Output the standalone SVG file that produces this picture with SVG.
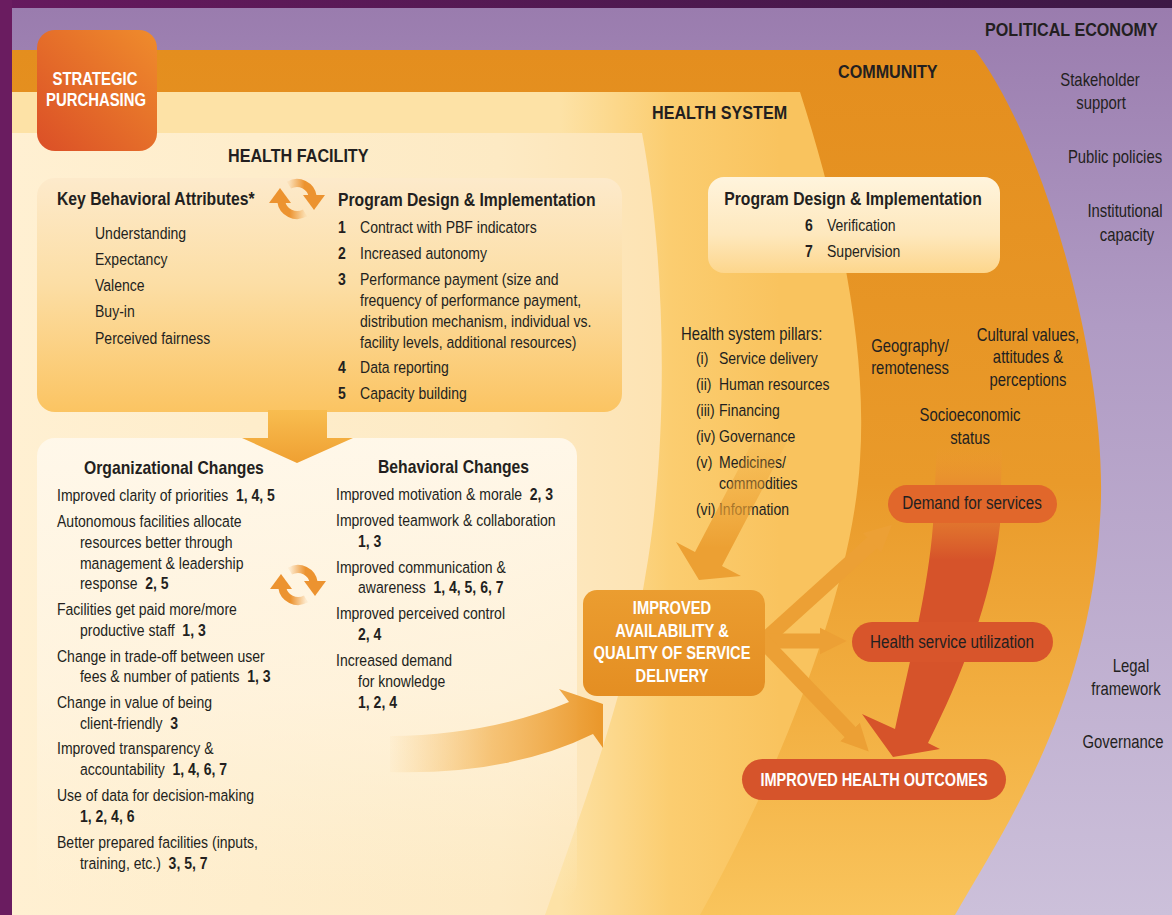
<svg xmlns="http://www.w3.org/2000/svg" width="1172" height="915" viewBox="0 0 1172 915">
<style>
.t{font-family:'Liberation Sans',Arial,sans-serif;font-size:16.5px;fill:#231f20}
.b{font-weight:bold}
.h{font-weight:bold;font-size:19px}
.s{font-weight:bold;font-size:18.5px}
.c{text-anchor:middle}
.w{fill:#ffffff}
.r{font-size:17.5px}
.oarrow{stroke:#eca035;stroke-width:15;fill:none;marker-end:url(#ah)}
</style>
<defs>
<linearGradient id="gPE" gradientUnits="userSpaceOnUse" x1="0" y1="8" x2="0" y2="915">
<stop offset="0" stop-color="#9a7cae"/><stop offset="0.35" stop-color="#b09bc4"/><stop offset="1" stop-color="#ccc0da"/>
</linearGradient>
<linearGradient id="gTop" x1="0" y1="0" x2="1" y2="0">
<stop offset="0" stop-color="#66195e"/><stop offset="1" stop-color="#3c1845"/>
</linearGradient>
<linearGradient id="gCom" gradientUnits="userSpaceOnUse" x1="0" y1="50" x2="0" y2="915">
<stop offset="0" stop-color="#e48e1e"/><stop offset="0.5" stop-color="#e99a2a"/><stop offset="0.75" stop-color="#f2ae40"/><stop offset="1" stop-color="#f9c45c"/>
</linearGradient>
<linearGradient id="gHS" gradientUnits="userSpaceOnUse" x1="560" y1="0" x2="780" y2="0">
<stop offset="0" stop-color="#fde2a6"/><stop offset="0.5" stop-color="#fbcd70"/><stop offset="1" stop-color="#f9c35e"/>
</linearGradient>
<linearGradient id="gHF" gradientUnits="userSpaceOnUse" x1="12" y1="0" x2="660" y2="0">
<stop offset="0" stop-color="#fff0d2"/><stop offset="0.75" stop-color="#fdeac4"/><stop offset="1" stop-color="#fde3b3"/>
</linearGradient>
<linearGradient id="gSP" x1="1" y1="0" x2="0" y2="1">
<stop offset="0" stop-color="#ef8c2c"/><stop offset="1" stop-color="#db4f27"/>
</linearGradient>
<linearGradient id="gKBA" x1="0" y1="0" x2="0" y2="1">
<stop offset="0" stop-color="#fdeacb"/><stop offset="0.45" stop-color="#fcdea5"/><stop offset="1" stop-color="#fbc462"/>
</linearGradient>
<linearGradient id="gCH" x1="0" y1="0" x2="0" y2="1">
<stop offset="0" stop-color="#fff8eb" stop-opacity="0.95"/><stop offset="0.55" stop-color="#fff5e3" stop-opacity="0.7"/><stop offset="1" stop-color="#fff3dc" stop-opacity="0"/>
</linearGradient>
<linearGradient id="gPD" x1="0" y1="0" x2="0" y2="1">
<stop offset="0" stop-color="#fff4dd"/><stop offset="0.6" stop-color="#fee8bd"/><stop offset="1" stop-color="#fdd68c"/>
</linearGradient>
<linearGradient id="gSD" x1="0" y1="0" x2="0" y2="1">
<stop offset="0" stop-color="#eb9d30"/><stop offset="1" stop-color="#e48e22"/>
</linearGradient>
<linearGradient id="gDown" x1="0" y1="0" x2="0" y2="1">
<stop offset="0" stop-color="#f8bd50"/><stop offset="1" stop-color="#efa032"/>
</linearGradient>
<linearGradient id="gCurve" gradientUnits="userSpaceOnUse" x1="385" y1="0" x2="600" y2="0">
<stop offset="0" stop-color="#f4b44c" stop-opacity="0"/><stop offset="0.5" stop-color="#f1aa42" stop-opacity="0.65"/><stop offset="1" stop-color="#ea982c"/>
</linearGradient>
<linearGradient id="gPil" gradientUnits="userSpaceOnUse" x1="0" y1="428" x2="0" y2="548">
<stop offset="0" stop-color="#eea535" stop-opacity="0"/><stop offset="1" stop-color="#eca033"/>
</linearGradient>
<linearGradient id="gRed" gradientUnits="userSpaceOnUse" x1="0" y1="445" x2="0" y2="560">
<stop offset="0" stop-color="#ef9a36" stop-opacity="0"/><stop offset="0.45" stop-color="#e57f30" stop-opacity="0.75"/><stop offset="1" stop-color="#d6532a"/>
</linearGradient>
<linearGradient id="gArcR" x1="0" y1="0" x2="1" y2="0">
<stop offset="0" stop-color="#ec9330" stop-opacity="0.1"/><stop offset="0.65" stop-color="#ec9330"/>
</linearGradient>
<linearGradient id="gArcL" x1="1" y1="0" x2="0" y2="0">
<stop offset="0" stop-color="#ec9330" stop-opacity="0.1"/><stop offset="0.65" stop-color="#ec9330"/>
</linearGradient>
<g id="cyc">
<path d="M-8,-13.9 A16,16 0 0 1 15.8,-2.2" fill="none" stroke="url(#gArcR)" stroke-width="8"/>
<polygon points="6,-4 28,-4 17,11" fill="#ec9330"/>
<path d="M8,13.9 A16,16 0 0 1 -15.8,2.2" fill="none" stroke="url(#gArcL)" stroke-width="8"/>
<polygon points="-6,4 -28,4 -17,-11" fill="#ec9330"/>
</g>
<marker id="ah" viewBox="0 0 10 10" refX="0.5" refY="5" markerWidth="1.8" markerHeight="2.5" orient="auto" markerUnits="strokeWidth">
<path d="M0,0 L10,5 L0,10 Z" fill="#eca035"/>
</marker>
</defs>

<g id="political-economy">
<rect x="0" y="0" width="1172" height="915" fill="url(#gPE)"/>
<rect x="0" y="0" width="1172" height="8" fill="url(#gTop)"/>
<rect x="0" y="0" width="12" height="915" fill="#6a1c60"/>
<text class="t h" transform="translate(985 36) scale(.85 1)">POLITICAL ECONOMY</text>
<text class="t r c" transform="translate(1100 86) scale(.85 1)">Stakeholder</text>
<text class="t r c" transform="translate(1101 109) scale(.85 1)">support</text>
<text class="t r c" transform="translate(1115 163) scale(.85 1)">Public policies</text>
<text class="t r c" transform="translate(1125 217) scale(.85 1)">Institutional</text>
<text class="t r c" transform="translate(1127 241) scale(.85 1)">capacity</text>
<text class="t r c" transform="translate(1131 672) scale(.85 1)">Legal</text>
<text class="t r c" transform="translate(1126 695) scale(.85 1)">framework</text>
<text class="t r c" transform="translate(1123 748) scale(.85 1)">Governance</text>
</g>

<g id="community">
<path d="M12,50 L975,50 C1050,150 1110,380 1100,520 C1090,700 1010,820 955,915 L12,915 Z" fill="url(#gCom)"/>
<text class="t h" transform="translate(838 78) scale(.85 1)">COMMUNITY</text>
</g>

<g id="health-system">
<path d="M12,92 L800,92 C835,200 868,340 860,460 C852,600 770,790 700,915 L12,915 Z" fill="url(#gHS)"/>
<text class="t h" transform="translate(652 119) scale(.85 1)">HEALTH SYSTEM</text>
</g>

<g id="health-facility">
<path d="M12,133 L642,133 C664,250 670,420 648,560 C628,690 585,800 545,915 L12,915 Z" fill="url(#gHF)"/>
<text class="t h" transform="translate(228 162) scale(.85 1)">HEALTH FACILITY</text>
</g>

<g id="strategic-purchasing">
<rect x="37" y="30" width="120" height="121" rx="18" fill="url(#gSP)"/>
<text class="t b c w r" transform="translate(95 85) scale(.85 1)">STRATEGIC</text>
<text class="t b c w r" transform="translate(96 106) scale(.85 1)">PURCHASING</text>
</g>

<g id="facility-design">
<rect x="37" y="178" width="585" height="234" rx="18" fill="url(#gKBA)"/>
<text class="t s" transform="translate(57 205) scale(.85 1)">Key Behavioral Attributes*</text>
<g transform="translate(95 0) scale(.85 1)">
<text class="t" x="0" y="239">Understanding</text>
<text class="t" x="0" y="265">Expectancy</text>
<text class="t" x="0" y="291">Valence</text>
<text class="t" x="0" y="317">Buy-in</text>
<text class="t" x="0" y="344">Perceived fairness</text>
</g>
<use href="#cyc" x="297" y="199"/>
<text class="t s" transform="translate(338 206) scale(.85 1)">Program Design &amp; Implementation</text>
<g transform="translate(338 0) scale(.85 1)">
<text class="t b" x="0" y="233">1</text><text class="t" x="25.9" y="233">Contract with PBF indicators</text>
<text class="t b" x="0" y="259">2</text><text class="t" x="25.9" y="259">Increased autonomy</text>
<text class="t b" x="0" y="285">3</text><text class="t" x="25.9" y="285">Performance payment (size and</text>
<text class="t" x="25.9" y="306">frequency of performance payment,</text>
<text class="t" x="25.9" y="327">distribution mechanism, individual vs.</text>
<text class="t" x="25.9" y="348">facility levels, additional resources)</text>
<text class="t b" x="0" y="373">4</text><text class="t" x="25.9" y="373">Data reporting</text>
<text class="t b" x="0" y="399">5</text><text class="t" x="25.9" y="399">Capacity building</text>
</g>
</g>

<g id="facility-changes">
<rect x="37" y="438" width="540" height="462" rx="18" fill="url(#gCH)"/>
<text class="t s" transform="translate(84 474) scale(.85 1)">Organizational Changes</text>
<g transform="translate(57 0) scale(.85 1)">
<text class="t" x="0" y="501">Improved clarity of priorities<tspan class="b" dx="9">1, 4, 5</tspan></text>
<text class="t" x="0" y="527">Autonomous facilities allocate</text>
<text class="t" x="27" y="548">resources better through</text>
<text class="t" x="27" y="569">management &amp; leadership</text>
<text class="t" x="27" y="589">response<tspan class="b" dx="9">2, 5</tspan></text>
<text class="t" x="0" y="615">Facilities get paid more/more</text>
<text class="t" x="27" y="636">productive staff<tspan class="b" dx="9">1, 3</tspan></text>
<text class="t" x="0" y="662">Change in trade-off between user</text>
<text class="t" x="27" y="682">fees &amp; number of patients<tspan class="b" dx="9">1, 3</tspan></text>
<text class="t" x="0" y="708">Change in value of being</text>
<text class="t" x="27" y="729">client-friendly<tspan class="b" dx="9">3</tspan></text>
<text class="t" x="0" y="754">Improved transparency &amp;</text>
<text class="t" x="27" y="775">accountability<tspan class="b" dx="9">1, 4, 6, 7</tspan></text>
<text class="t" x="0" y="801">Use of data for decision-making</text>
<text class="t b" x="27" y="822">1, 2, 4, 6</text>
<text class="t" x="0" y="848">Better prepared facilities (inputs,</text>
<text class="t" x="27" y="869">training, etc.)<tspan class="b" dx="9">3, 5, 7</tspan></text>
</g>
<use href="#cyc" x="298" y="585"/>
<text class="t s" transform="translate(378 473) scale(.85 1)">Behavioral Changes</text>
<g transform="translate(336 0) scale(.85 1)">
<text class="t" x="0" y="500">Improved motivation &amp; morale<tspan class="b" dx="9">2, 3</tspan></text>
<text class="t" x="0" y="526">Improved teamwork &amp; collaboration</text>
<text class="t b" x="25.9" y="547">1, 3</text>
<text class="t" x="0" y="573">Improved communication &amp;</text>
<text class="t" x="25.9" y="593">awareness<tspan class="b" dx="9">1, 4, 5, 6, 7</tspan></text>
<text class="t" x="0" y="619">Improved perceived control</text>
<text class="t b" x="25.9" y="640">2, 4</text>
<text class="t" x="0" y="666">Increased demand</text>
<text class="t" x="25.9" y="687">for knowledge</text>
<text class="t b" x="25.9" y="708">1, 2, 4</text>
</g>
</g>

<g id="system-design">
<rect x="708" y="177" width="292" height="96" rx="16" fill="url(#gPD)"/>
<text class="t s c" transform="translate(853 205) scale(.85 1)">Program Design &amp; Implementation</text>
<g transform="translate(805 0) scale(.85 1)">
<text class="t b" x="0" y="231">6</text><text class="t" x="25.9" y="231">Verification</text>
<text class="t b" x="0" y="257">7</text><text class="t" x="25.9" y="257">Supervision</text>
</g>
</g>

<g id="system-pillars">
<g transform="translate(681 0) scale(.85 1)">
<text class="t r" x="0" y="340">Health system pillars:</text>
<text class="t" x="17.6" y="364">(i)</text><text class="t" x="44.7" y="364">Service delivery</text>
<text class="t" x="17.6" y="390">(ii)</text><text class="t" x="44.7" y="390">Human resources</text>
<text class="t" x="17.6" y="416">(iii)</text><text class="t" x="44.7" y="416">Financing</text>
<text class="t" x="17.6" y="442">(iv)</text><text class="t" x="44.7" y="442">Governance</text>
<text class="t" x="17.6" y="468">(v)</text><text class="t" x="44.7" y="468">Medicines/</text>
<text class="t" x="44.7" y="489">commodities</text>
<text class="t" x="17.6" y="515">(vi)</text><text class="t" x="44.7" y="515">Information</text>
</g>
</g>

<g id="community-factors">
<text class="t r c" transform="translate(910 352) scale(.85 1)">Geography/</text>
<text class="t r c" transform="translate(910 374) scale(.85 1)">remoteness</text>
<text class="t r c" transform="translate(1028 341) scale(.85 1)">Cultural values,</text>
<text class="t r c" transform="translate(1028 363) scale(.85 1)">attitudes &amp;</text>
<text class="t r c" transform="translate(1028 386) scale(.85 1)">perceptions</text>
<text class="t r c" transform="translate(970 421) scale(.85 1)">Socioeconomic</text>
<text class="t r c" transform="translate(970 444) scale(.85 1)">status</text>
</g>

<g id="connectors">
<path d="M268,410 L327,410 L327,438 L353,438 L297,463 L242,438 L268,438 Z" fill="url(#gDown)"/>
<path d="M390,736 Q490,735 569,702 L559,689 L603,704 L603,748 L593,734 Q510,775 390,772 Z" fill="url(#gCurve)"/>
<path d="M760,428 L787,442 L722,566 L741,576 L699,580 L676,542 L695,552 Z" fill="url(#gPil)"/>
<line class="oarrow" x1="758" y1="646" x2="873" y2="542"/>
<line class="oarrow" x1="758" y1="641" x2="821" y2="641"/>
<line class="oarrow" x1="758" y1="636" x2="851" y2="733"/>
<path d="M937,445 L1002,445 L1000,525 C992,600 960,680 928,743 L940,749 L893,757 L862,714 L895,729 C910,660 928,590 933,525 Z" fill="url(#gRed)"/>
</g>

<g id="service-delivery">
<rect x="583" y="590" width="182" height="106" rx="14" fill="url(#gSD)"/>
<text class="t b w c r" transform="translate(672 614) scale(.84 1)">IMPROVED</text>
<text class="t b w c r" transform="translate(672 637) scale(.84 1)">AVAILABILITY &amp;</text>
<text class="t b w c r" transform="translate(672 659) scale(.84 1)">QUALITY OF SERVICE</text>
<text class="t b w c r" transform="translate(672 682) scale(.84 1)">DELIVERY</text>
</g>

<g id="demand">
<rect x="888" y="485" width="169" height="38" rx="19" fill="#e1672b"/>
<text class="t r c" transform="translate(972 509) scale(.87 1)">Demand for services</text>
</g>

<g id="utilization">
<rect x="852" y="622" width="201" height="40" rx="20" fill="#d8552b"/>
<text class="t r c" transform="translate(952 648) scale(.87 1)">Health service utilization</text>
</g>

<g id="outcomes">
<rect x="742" y="759" width="264" height="41" rx="20.5" fill="#d6542b"/>
<text class="t b w c r" transform="translate(874 786) scale(.83 1)">IMPROVED HEALTH OUTCOMES</text>
</g>
</svg>
